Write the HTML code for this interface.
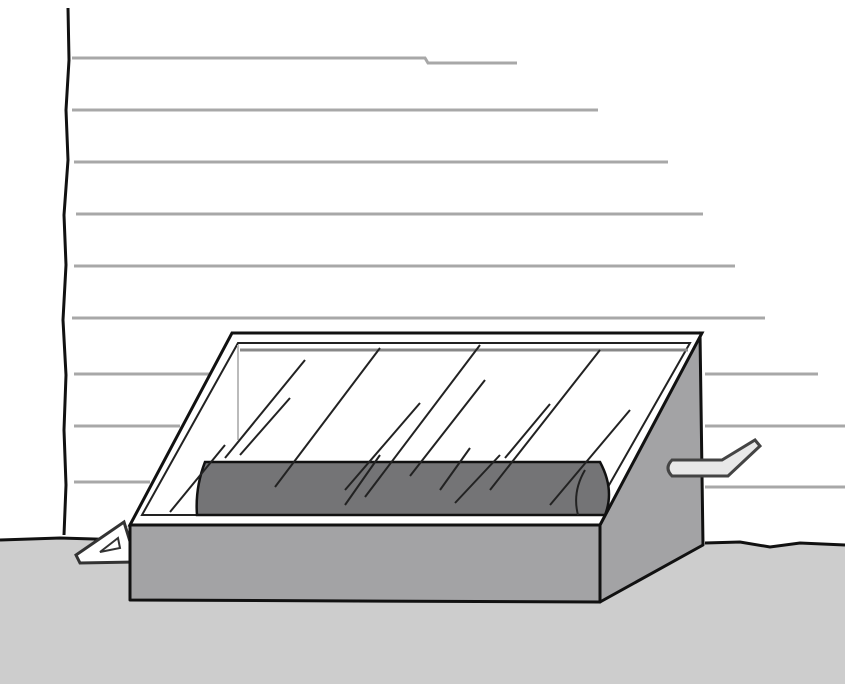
<!DOCTYPE html>
<html><head><style>html,body{margin:0;padding:0;background:#fff}svg{display:block}</style></head>
<body>
<svg width="845" height="684" viewBox="0 0 845 684" xmlns="http://www.w3.org/2000/svg">
<rect width="845" height="684" fill="#fff"/>
<g stroke="#a8a8a8" stroke-width="3" fill="none">
<path d="M72 58 L425 58 L428 63 L517 63"/>
<line x1="72" y1="110" x2="598" y2="110"/>
<line x1="74" y1="162" x2="668" y2="162"/>
<line x1="76" y1="214" x2="703" y2="214"/>
<line x1="74" y1="266" x2="735" y2="266"/>
<line x1="72" y1="318" x2="765" y2="318"/>
<line x1="74" y1="374" x2="210" y2="374"/><line x1="705" y1="374" x2="818" y2="374"/>
<line x1="74" y1="426" x2="180" y2="426"/><line x1="705" y1="426" x2="845" y2="426"/>
<line x1="74" y1="482" x2="150" y2="482"/><line x1="705" y1="487" x2="845" y2="487"/>
</g>
<path d="M68 8 L69 60 L66 110 L68 160 L64 215 L66 265 L63 320 L66 375 L64 430 L66 485 L64 535" stroke="#111" stroke-width="3" fill="none"/>
<path d="M0 540 L60 538 L130 540 L705 543 L740 542 L770 547 L800 543 L845 545 L845 684 L0 684 Z" fill="#cdcdcd"/>
<path d="M0 540 L60 538 L130 540 M705 543 L740 542 L770 547 L800 543 L845 545" stroke="#111" stroke-width="3" fill="none"/>
<path d="M132 548 L124 522 L76 555 L80 563 L132 562 Z" fill="#fff" stroke="#333" stroke-width="3"/>
<path d="M100 552 L118 538 L120 548 Z" fill="none" stroke="#333" stroke-width="2"/>
<path d="M600 525 L700 333 L703 545 L600 602 Z" fill="#a3a3a5" stroke="#111" stroke-width="3" stroke-linejoin="round"/>
<path d="M672 460 L722 460 L755 440 L760 446 L728 476 L672 476 Q664 468 672 460 Z" fill="#e8e8e8" stroke="#444" stroke-width="3"/>
<path d="M130 525 L232 333 L702 333 L600 525 Z" fill="#fff" stroke="#111" stroke-width="3"/>
<path d="M142 515 L238 343 L690 343 L592 515 Z" fill="none" stroke="#222" stroke-width="2"/>
<line x1="240" y1="350" x2="688" y2="350" stroke="#888" stroke-width="3"/>
<line x1="238" y1="345" x2="238" y2="440" stroke="#bbb" stroke-width="2"/>
<path d="M205 462 L600 462 Q615 490 605 515 L197 515 Q195 488 205 462 Z" fill="#747476" stroke="#111" stroke-width="2.5"/>
<path d="M585 470 Q572 492 578 515" stroke="#222" stroke-width="2" fill="none"/>
<g stroke="#222" stroke-width="2">
<line x1="305" y1="360" x2="225" y2="458"/>
<line x1="290" y1="398" x2="240" y2="455"/>
<line x1="380" y1="348" x2="275" y2="487"/>
<line x1="480" y1="345" x2="365" y2="497"/>
<line x1="485" y1="380" x2="410" y2="476"/>
<line x1="420" y1="403" x2="345" y2="490"/>
<line x1="600" y1="350" x2="490" y2="490"/>
<line x1="550" y1="404" x2="505" y2="458"/>
<line x1="630" y1="410" x2="550" y2="505"/>
<line x1="380" y1="455" x2="345" y2="505"/>
<line x1="500" y1="455" x2="455" y2="503"/>
<line x1="470" y1="448" x2="440" y2="490"/>
<line x1="170" y1="512" x2="225" y2="445"/>
</g>
<path d="M130 525 L600 525 L600 602 L130 600 Z" fill="#a3a3a5" stroke="#111" stroke-width="3" stroke-linejoin="round"/>
</svg>
</body></html>
